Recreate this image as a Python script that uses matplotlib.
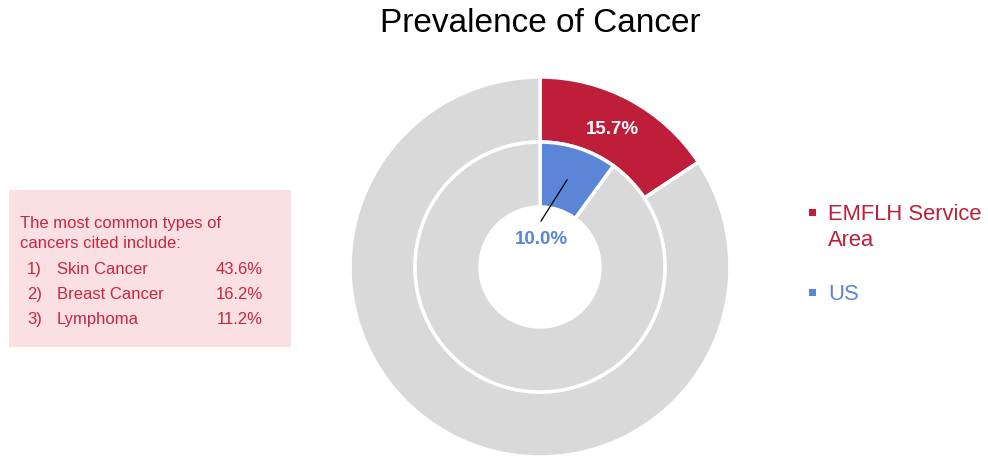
import matplotlib
matplotlib.use("Agg")
import matplotlib.pyplot as plt
from matplotlib.patches import Rectangle

title = "Prevalence of Cancer"
series_names = ["EMFLH Service\nArea", "US"]
series_values = [15.7, 10.0]
series_colors = ["#BE1E3A", "#5B85D6"]
rest_color = "#D9D9D9"
note_header = ["The most common types of", "cancers cited include:"]
note_items = ["Skin Cancer", "Breast Cancer", "Lymphoma"]
note_values = [43.6, 16.2, 11.2]

plt.rcParams['font.family'] = ['Liberation Sans', 'DejaVu Sans']
W, H = 988, 457
fig = plt.figure(figsize=(W/100, H/100), dpi=100)

cx, cy, R = 540, 267, 190
ax = fig.add_axes([(cx-R)/W, (H-cy-R)/H, 2*R/W, 2*R/H])
ax.set_xlim(-1, 1); ax.set_ylim(-1, 1); ax.set_aspect('equal'); ax.axis('off')

r_out, r_mid, r_in = 1.0, 125/190, 60/190
wprops = dict(edgecolor='white', linewidth=2.5)
ax.pie([series_values[0], 100-series_values[0]], radius=r_out, startangle=90, counterclock=False,
       colors=[series_colors[0], rest_color], wedgeprops=dict(width=r_out-r_mid, **wprops))
ax.pie([series_values[1], 100-series_values[1]], radius=r_mid, startangle=90, counterclock=False,
       colors=[series_colors[1], rest_color], wedgeprops=dict(width=r_mid-r_in, **wprops))
ax.set_xlim(-1, 1); ax.set_ylim(-1, 1)

def px(x, y):
    return ((x-cx)/R, (cy-y)/R)

ax.text(*px(612, 130), f"{series_values[0]:.1f}%", color='white', fontsize=13.5, fontweight='bold',
        ha='center', va='center')
ax.text(*px(541, 239), f"{series_values[1]:.1f}%", color=series_colors[1], fontsize=13.5, fontweight='bold',
        ha='center', va='center')
x0, y0 = px(541, 221); x1, y1 = px(567, 180)
ax.plot([x0, x1], [y0, y1], color='black', lw=0.9)

fig.text(540/W, 1-23/H, title, fontsize=24, ha='center', va='center', color='black')

# legend
leg_lines = [[212, 238], [292]]
for name, col, ys in zip(series_names, series_colors, leg_lines):
    fig.patches.append(Rectangle((809/W, 1-(ys[0]+3.5)/H), 7/W, 7/H, transform=fig.transFigure,
                                 facecolor=col, edgecolor='none'))
    for part, y in zip(name.split("\n"), ys):
        fig.text(828/W, 1-y/H, part, fontsize=15.8, color=col, ha='left', va='center_baseline')

# note box
fig.patches.append(Rectangle((9/W, 1-347/H), 282/W, 157/H, transform=fig.transFigure,
                             facecolor='#FADFE3', edgecolor='none'))
tc = '#C3283F'
for j, line in enumerate(note_header):
    fig.text(20/W, 1-(222+20*j)/H, line, fontsize=12, color=tc, ha='left', va='center_baseline')
for i, (item, v) in enumerate(zip(note_items, note_values)):
    y = 268 + 25*i
    fig.text(27/W, 1-y/H, f"{i+1})", fontsize=12, color=tc, ha='left', va='center_baseline')
    fig.text(57/W, 1-y/H, item, fontsize=12, color=tc, ha='left', va='center_baseline')
    fig.text(263/W, 1-y/H, f"{v:.1f}%", fontsize=12, color=tc, ha='right', va='center_baseline')

fig.savefig("out.png", dpi=100)
